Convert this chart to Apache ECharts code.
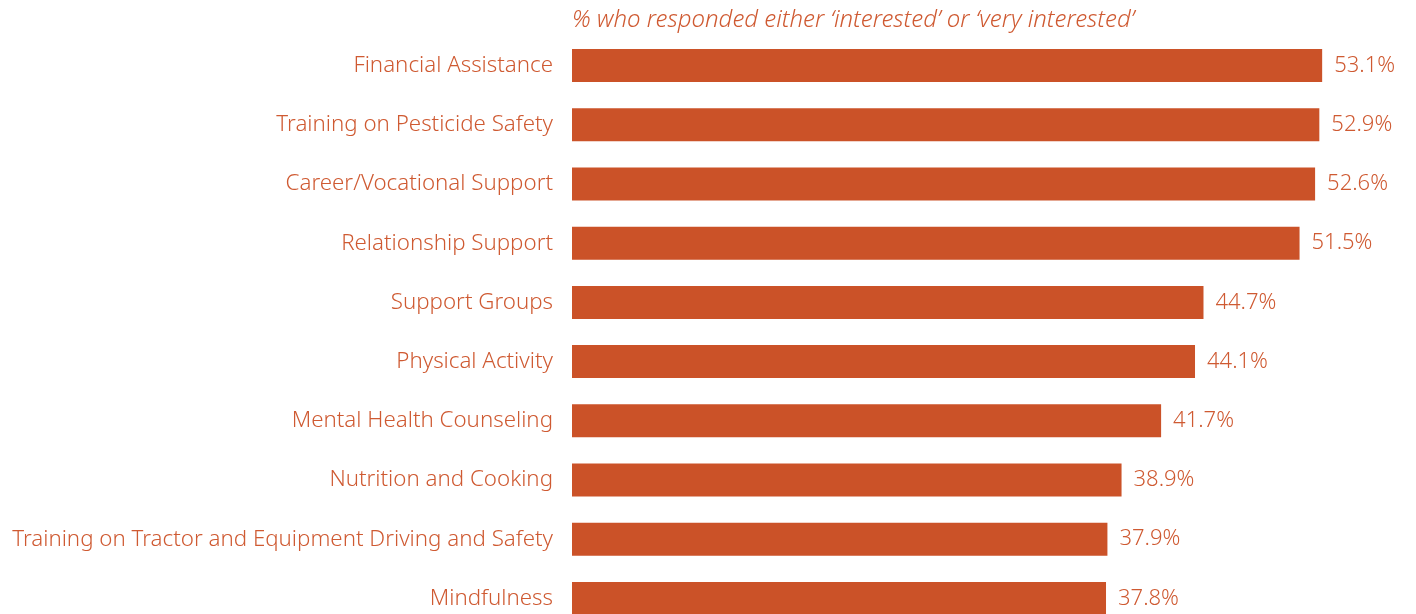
<!DOCTYPE html>
<html>
<head>
<meta charset="utf-8">
<script src="https://cdn.jsdelivr.net/npm/echarts@6/dist/echarts.min.js"></script>
<style>
  html, body { margin: 0; padding: 0; background: #fff; }
  #chart { width: 1416px; height: 614px; }
</style>
</head>
<body>
<div id="chart"></div>
<script>
const categories = [
  'Financial Assistance',
  'Training on Pesticide Safety',
  'Career/Vocational Support',
  'Relationship Support',
  'Support Groups',
  'Physical Activity',
  'Mental Health Counseling',
  'Nutrition and Cooking',
  'Training on Tractor and Equipment Driving and Safety',
  'Mindfulness'
]
const values = [53.1, 52.9, 52.6, 51.5, 44.7, 44.1, 41.7, 38.9, 37.9, 37.8]

const barColor = '#CB5228'
const textColor = '#CF5A32'
const font = 'Noto Sans'

const chart = echarts.init(document.getElementById('chart'))
chart.setOption({
  animation: false,
  title: {
    text: '% who responded either ‘interested’ or ‘very interested’',
    left: 567,
    top: 3,
    textStyle: {
      color: textColor,
      fontSize: 24,
      fontStyle: 'italic',
      fontWeight: 300,
      fontFamily: font
    }
  },
  grid: {
    left: 572,
    right: 67,
    top: 36,
    height: 592,
    containLabel: false,
    outerBoundsMode: 'none'
  },
  xAxis: {
    type: 'value',
    min: 0,
    max: 55,
    show: false
  },
  yAxis: {
    type: 'category',
    inverse: true,
    data: categories,
    axisLine: { show: false },
    axisTick: { show: false },
    axisLabel: {
      margin: 19,
      color: textColor,
      fontSize: 22.3,
      fontWeight: 300,
      fontFamily: font
    }
  },
  series: [
    {
      type: 'bar',
      data: values,
      barWidth: 33,
      itemStyle: { color: barColor },
      label: {
        show: true,
        position: 'right',
        distance: 12,
        color: textColor,
        fontSize: 22,
        fontWeight: 300,
        fontFamily: font,
        formatter: p => p.value.toFixed(1) + '%'
      }
    }
  ]
})
</script>
</body>
</html>
